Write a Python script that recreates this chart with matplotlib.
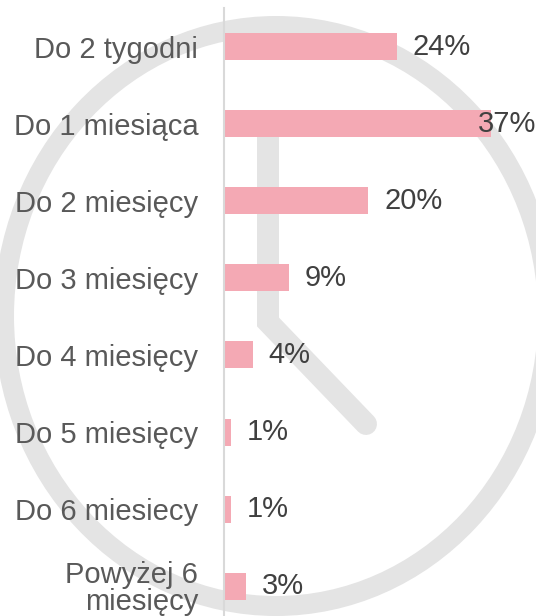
import numpy as np
import matplotlib
matplotlib.use("Agg")
import matplotlib.pyplot as plt
from matplotlib.patches import Ellipse

plt.rcParams['font.family'] = ['Liberation Sans', 'DejaVu Sans']

# data
categories = ['Do 2 tygodni', 'Do 1 miesiąca', 'Do 2 miesięcy', 'Do 3 miesięcy',
              'Do 4 miesięcy', 'Do 5 miesięcy', 'Do 6 miesiecy', 'Powyżej 6\nmiesięcy']
values = [24, 37, 20, 9, 4, 1, 1, 3]

W, H = 536, 616
fig = plt.figure(figsize=(W / 100, H / 100), dpi=100)

# background clock (pixel coordinates)
bg = fig.add_axes([0, 0, 1, 1], zorder=0)
bg.set_xlim(0, W)
bg.set_ylim(H, 0)
bg.axis('off')
bg.add_patch(Ellipse((276, 316), 2 * 272, 2 * 290, fill=False,
                     edgecolor='#e4e4e4', lw=14.4))
bg.plot([268, 268, 366], [131, 322, 424], color='#e4e4e4', lw=15.8,
        solid_capstyle='round', solid_joinstyle='miter')

# bars
ax = fig.add_axes([224 / W, 0, (W - 224) / W, (H - 8) / H], zorder=1)
ax.patch.set_alpha(0)
y = np.arange(len(categories))
ax.barh(y, values, height=0.35, color='#f4a9b4')
xmax = 43.3
ax.set_xlim(0, xmax)
ax.set_ylim(7.386, -0.5)
ax.set_yticks(y)
ax.set_yticklabels(categories, fontsize=21, color='#595959', linespacing=0.95)
ax.tick_params(axis='y', length=0, pad=18.5)
ax.set_xticks([])
for s in ['top', 'right', 'bottom']:
    ax.spines[s].set_visible(False)
ax.spines['left'].set_color('#d9d9d9')
ax.spines['left'].set_linewidth(1.5)

for yi, v in zip(y, values):
    if v > 33:
        ax.text(xmax, yi, f'{v}%', ha='right', va='center', fontsize=21, color='#404040')
    else:
        ax.annotate(f'{v}%', (v, yi), xytext=(11.5, 0), textcoords='offset points',
                    ha='left', va='center', fontsize=21, color='#404040')

fig.savefig('out.png', dpi=100)
